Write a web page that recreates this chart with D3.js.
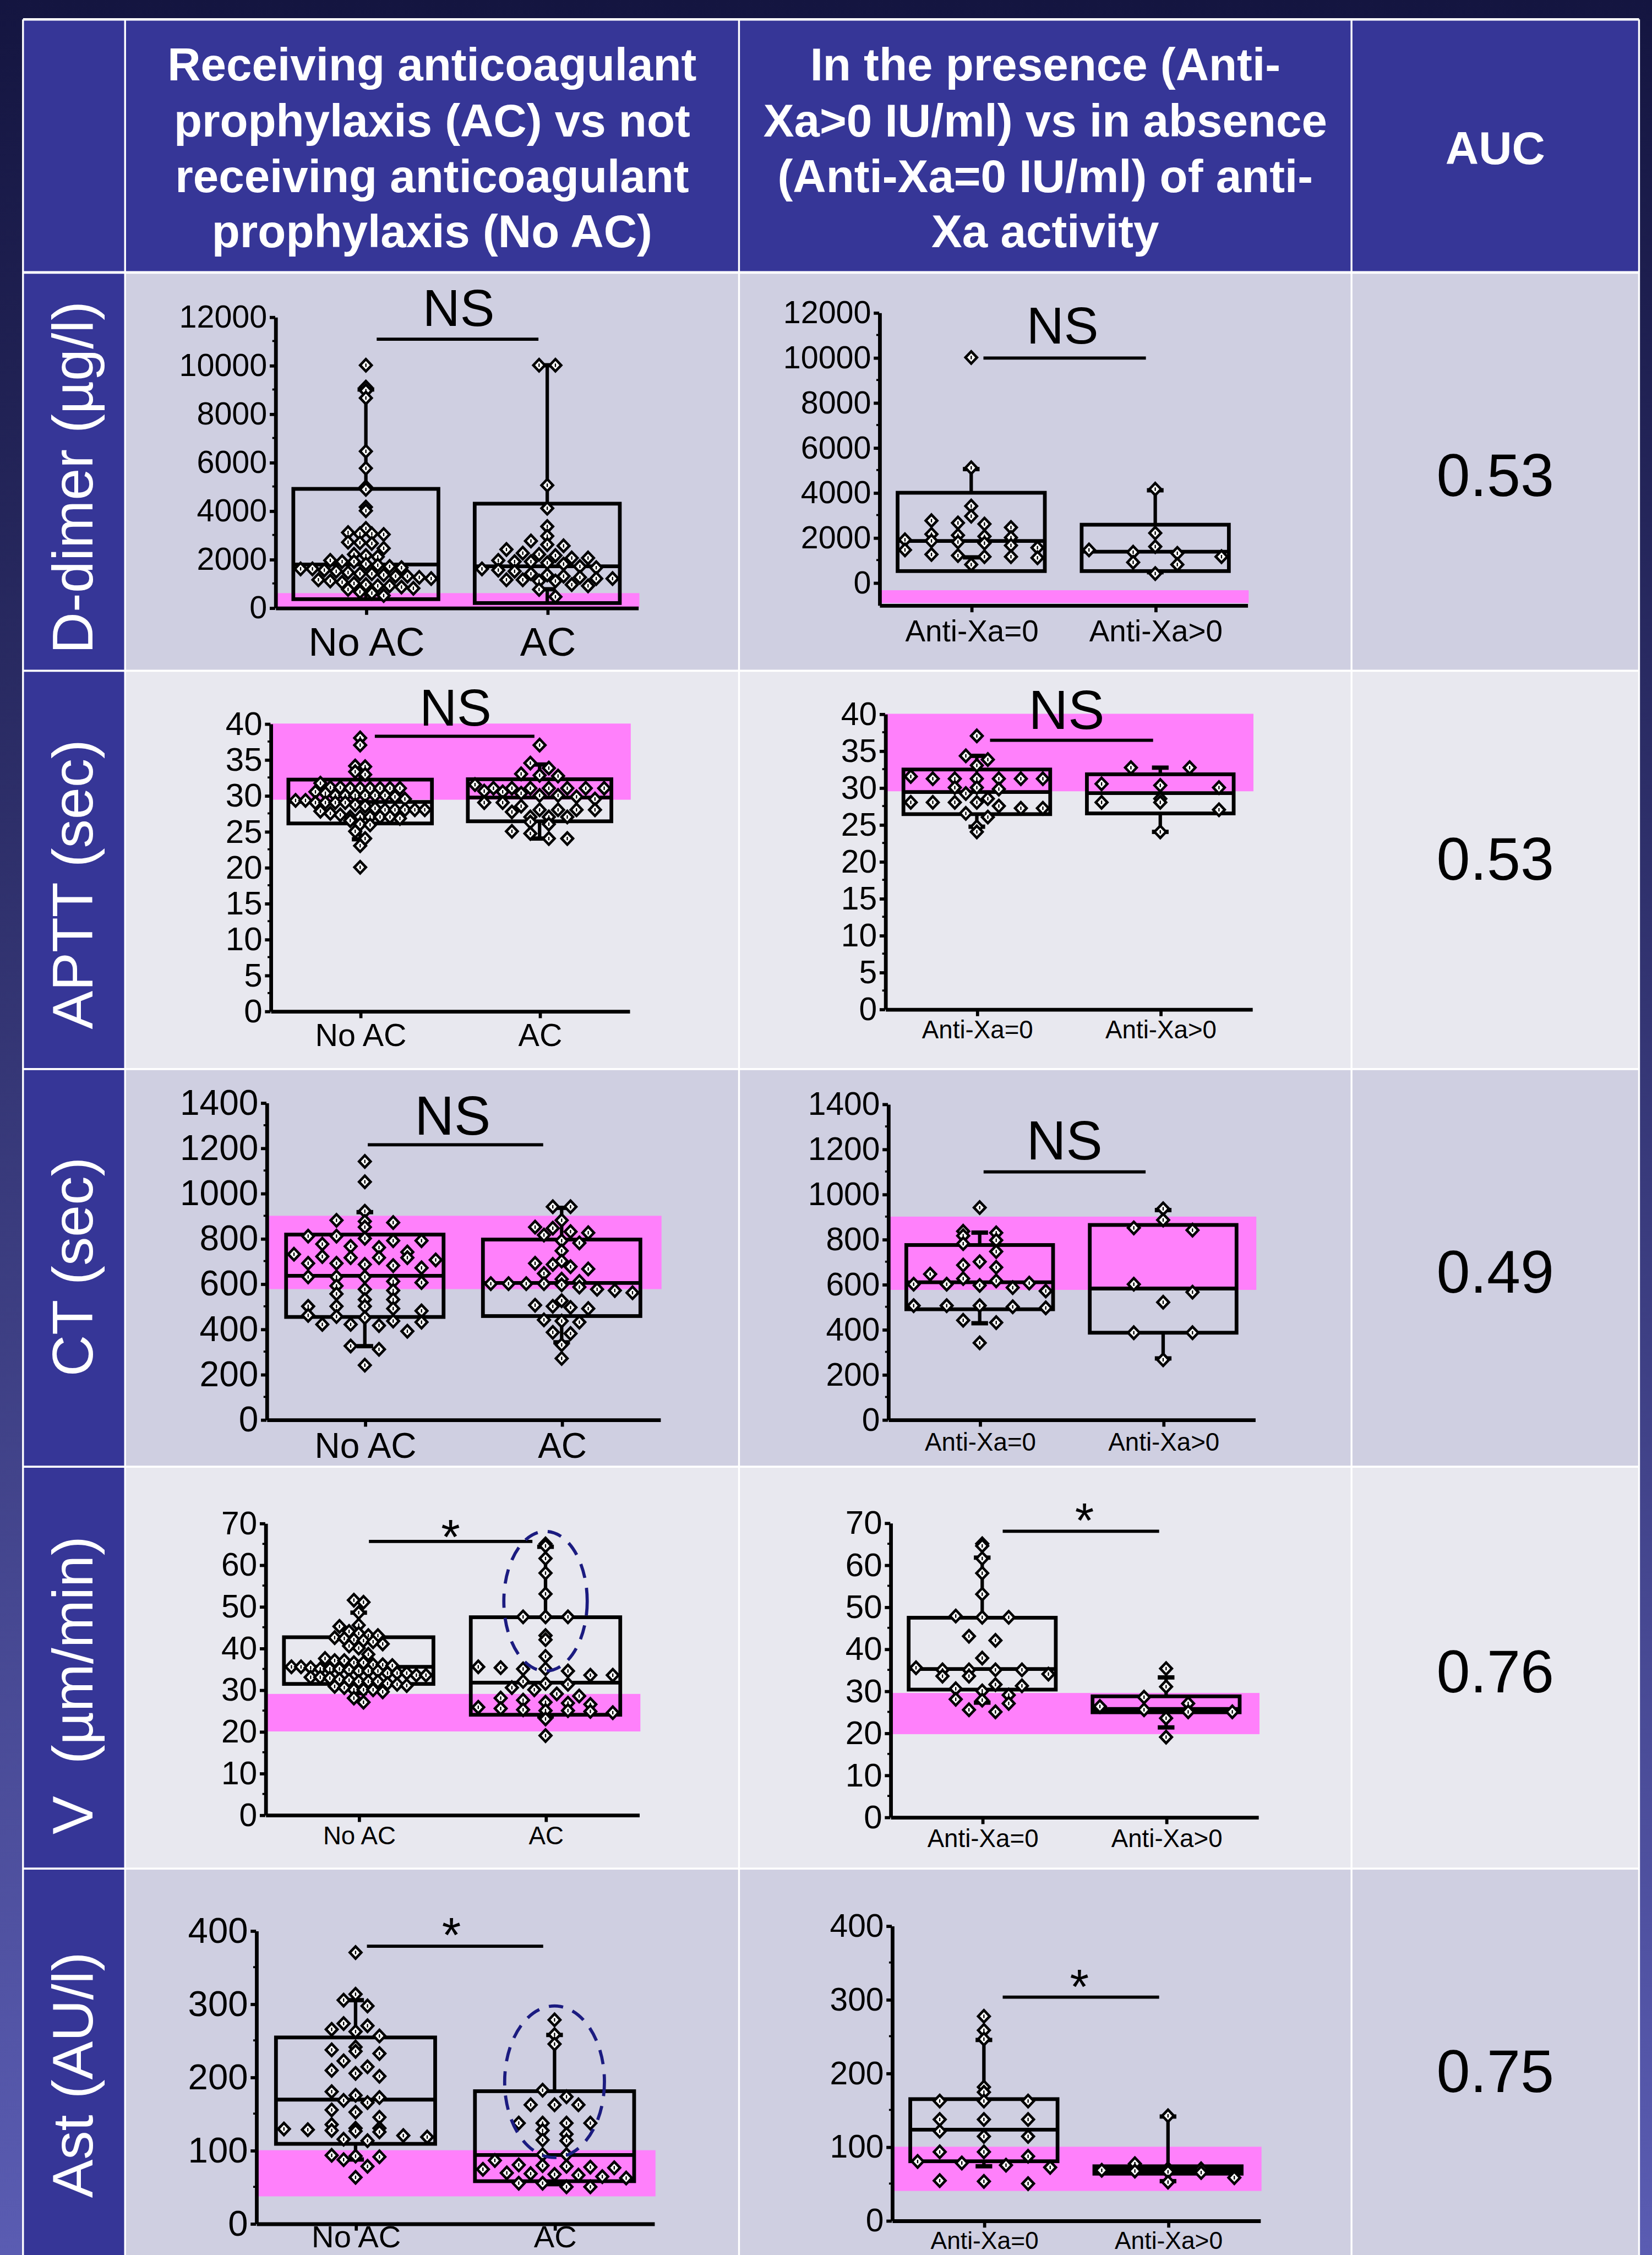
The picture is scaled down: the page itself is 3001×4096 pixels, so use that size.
<!DOCTYPE html>
<meta charset="utf-8">
<style>
  body { margin: 0; background: #15163f; }
  svg { display: block; }
  text { font-family: 'Liberation Sans', Arial, sans-serif; }
  .head { fill: white; font-weight: bold; font-size: 32px; text-anchor: middle; }
  .rowlab { fill: white; font-size: 40px; text-anchor: middle; white-space: pre; }
  .auc { fill: black; font-size: 42px; text-anchor: middle; }
  .pt { fill: white; stroke: black; stroke-width: 1.8; stroke-linejoin: miter; }
  .dot { stroke: black; stroke-width: 0.9; }
</style>
<body>
<script src="https://d3js.org/d3.v7.min.js"></script>
<script>

// ---- data ----
var rowLabels = ["D-dimer (µg/l)", "APTT (sec)", "CT (sec)", "V  (µm/min)", "Ast (AU/l)"];
var aucValues = ["0.53", "0.53", "0.49", "0.76", "0.75"];
var headLeft = ["Receiving anticoagulant", "prophylaxis (AC) vs not", "receiving anticoagulant", "prophylaxis (No AC)"];
var headMid = ["In the presence (Anti-", "Xa>0 IU/ml) vs in absence", "(Anti-Xa=0 IU/ml) of anti-", "Xa activity"];
var headRight = "AUC";
var acGroups = ["No AC", "AC"];
var xaGroups = ["Anti-Xa=0", "Anti-Xa>0"];
var sigAC = ["NS", "NS", "NS", "*", "*"];
var sigXa = ["NS", "NS", "NS", "*", "*"];
var yTicks = [
  [0, 2000, 4000, 6000, 8000, 10000, 12000],
  [0, 5, 10, 15, 20, 25, 30, 35, 40],
  [0, 200, 400, 600, 800, 1000, 1200, 1400],
  [0, 10, 20, 30, 40, 50, 60, 70],
  [0, 100, 200, 300, 400]
];

// reference ranges (pink bands)
var refAC = [[0, 600], [29.4, 40], [576, 900], [20, 29], [37, 100]];
var refXa = [[-910, -340], [29.5, 40], [575, 900], [19.7, 29.5], [40, 100]];

// box stats: [whisker low, q1, median, q3, whisker high]
var boxAC = [
  [[740, 350, 1780, 4900, 9000], [760, 190, 1705, 4290, 10000]],
  [[23.9, 26.1, 29.1, 32.2, 34.0], [24.0, 26.4, 29.7, 32.25, 34.3]],
  [[324, 453, 635, 817, 916], [341, 457, 603, 795, 935]],
  [[29.2, 31.4, 35.5, 42.6, 48.5], [23.6, 24.0, 31.7, 47.4, 64.3]],
  [[87.3, 108.7, 169.1, 254, 304.9], [53.6, 57.7, 93.4, 180.6, 257.4]]
];
var boxXa = [
  [[1120, 510, 1850, 3990, 5040], [460, 510, 1370, 2570, 4100]],
  [[24.7, 26.4, 29.4, 32.45, 34.3], [24.0, 26.5, 29.25, 31.8, 32.7]],
  [[427, 489, 609, 774, 829], [271, 385, 581, 863, 929]],
  [[27.2, 30.3, 35.2, 47.4, 61.7], [21.3, 24.9, 25.7, 28.7, 33.2]],
  [[73.5, 80.3, 123.1, 164.6, 244.9], [53.3, 63.4, 68.5, 73.5, 141]]
];

// individual patients
var ddimerNoAC = [10000, 9100, 8950, 8650, 6450, 5750, 4980, 4880, 4150, 4000, 3270, 3100, 3050, 3050, 3020, 2700, 2680, 2650, 2450, 2200, 2150, 2100, 1950, 1900, 1900, 1800, 1750, 1700, 1650, 1600, 1600, 1550, 1500, 1450, 1400, 1400, 1350, 1300, 1300, 1250, 1200, 1150, 1100, 1050, 1000, 950, 900, 900, 850, 800, 750, 650, 600, 500];
var ddimerAC = [10000, 10000, 5050, 4100, 3350, 2950, 2750, 2600, 2550, 2400, 2250, 2200, 2150, 2050, 2050, 1950, 1900, 1900, 1850, 1800, 1700, 1650, 1600, 1550, 1500, 1400, 1350, 1300, 1250, 1200, 1200, 1150, 1150, 1100, 1100, 950, 900, 750, 450];
var ddimerXa0 = [10000, 5100, 3400, 2950, 2750, 2650, 2600, 2450, 2150, 2100, 2050, 2000, 1900, 1850, 1800, 1750, 1650, 1550, 1450, 1250, 1200, 1150, 1150, 1100, 800];
var ddimerXa1 = [4150, 2200, 1600, 1450, 1350, 1300, 1150, 900, 800, 400];
var apttNoAC = [38, 37, 34.1, 34, 33.3, 32.9, 31.7, 31.1, 31.1, 31, 31, 31, 31, 31, 31, 30.5, 30.3, 30, 30, 30, 30, 30, 30, 29.8, 29.5, 29.3, 29.3, 29, 29, 29, 29, 28.7, 28.5, 28.2, 28, 28, 28, 28, 28, 27.8, 27.5, 27.3, 27, 27, 27, 27, 27, 26.8, 26.5, 26, 25.9, 25, 24, 23, 20];
var apttAC = [37, 34.5, 33.8, 33, 32.8, 32.7, 31.5, 31, 31, 31, 31, 31, 31, 31, 30.6, 30.5, 30.3, 30, 30, 29.8, 29.5, 29, 29, 28.5, 28, 28, 28, 28, 27.7, 27, 27, 27, 26.3, 26, 25, 24.7, 24, 24];
var apttXa0 = [37, 34.3, 33.8, 33, 31.5, 31.2, 31.2, 31.2, 31.2, 31.2, 31.2, 30, 30, 29.8, 29.2, 28.5, 28, 28, 28, 28, 27.5, 27.2, 27.2, 26.5, 26, 24.7, 24];
var apttXa1 = [32.7, 32.7, 30.5, 30.3, 30, 28.5, 28, 28, 27, 24];
var ctNoAC = [1140, 1050, 920, 880, 875, 870, 850, 810, 810, 800, 790, 790, 775, 765, 760, 740, 730, 720, 715, 715, 715, 705, 690, 690, 685, 680, 670, 630, 630, 630, 610, 605, 590, 575, 570, 555, 530, 530, 500, 500, 500, 490, 480, 460, 455, 450, 435, 430, 420, 420, 415, 390, 325, 310, 240];
var ctAC = [940, 940, 880, 850, 845, 830, 825, 815, 790, 780, 745, 700, 690, 685, 675, 665, 645, 620, 610, 600, 600, 600, 600, 595, 585, 575, 570, 560, 525, 505, 500, 495, 490, 440, 435, 430, 385, 380, 330, 270];
var ctXa0 = [940, 835, 828, 815, 795, 780, 745, 700, 685, 675, 645, 625, 615, 605, 600, 600, 595, 585, 570, 505, 505, 505, 500, 495, 440, 430, 340];
var ctXa1 = [935, 885, 850, 840, 600, 565, 520, 385, 385, 265];
var vNoAC = [51.5, 51, 48.5, 45.5, 45.2, 44, 43.5, 43, 43, 42.5, 42.3, 42, 41.8, 41.5, 41, 40.5, 40, 38.5, 37.5, 37, 37, 36.5, 36.5, 36, 36, 35.8, 35.5, 35.5, 35.3, 35, 35, 35, 34.8, 34.5, 34.5, 34.5, 34, 34, 34, 33.5, 33.5, 33, 33, 32.8, 32.5, 32.3, 32, 32, 32, 31.5, 31.3, 31, 30.8, 30.5, 30, 30, 30, 29.5, 28, 27];
var vAC = [65, 64.5, 61.5, 58, 53, 47.5, 47.5, 47.5, 43, 42, 38, 35.5, 35.3, 35, 35, 34.5, 33.5, 33.5, 32, 31.5, 31.3, 30.5, 30, 29, 28.5, 28, 27.5, 27, 26.8, 26.5, 25.8, 25.5, 25.2, 25, 25, 24.8, 24.5, 23, 19];
var vXa0 = [65, 64.5, 61.5, 58, 53, 47.8, 47.5, 47.5, 43, 42, 37.8, 35.5, 35, 35, 35, 35, 34, 33.5, 33.5, 31.5, 31.2, 30.5, 30, 29, 28, 27.8, 27, 25.5, 25];
var vXa1 = [35.3, 31, 28.5, 27, 26.3, 25.5, 25, 25, 23.5, 19];
var astNoAC = [370, 313, 305, 297, 273, 270, 265, 262, 256, 241, 237, 235, 232, 222, 214, 209, 205, 201, 180, 175, 172, 168, 165, 155, 152, 145, 135, 130, 130, 129, 128, 127, 126, 125, 120, 118, 115, 113, 93, 92, 91, 87, 78, 63];
var astAC = [278, 258, 245, 182, 173, 162, 162, 162, 137, 137, 137, 137, 127, 122, 114, 113, 94, 94, 86, 80, 79, 78, 77, 76, 74, 69, 68, 67, 66, 64, 62, 55, 55, 50, 50];
var astXa0 = [277, 258, 246, 181, 174, 162, 162, 162, 137, 137, 137, 121, 114, 114, 93, 93, 87, 80, 78, 75, 72, 54, 53, 50];
var astXa1 = [142, 77, 70, 70, 68, 67, 66, 65, 58, 52];

var ptsAC = [[ddimerNoAC, ddimerAC], [apttNoAC, apttAC], [ctNoAC, ctAC], [vNoAC, vAC], [astNoAC, astAC]];
var ptsXa = [[ddimerXa0, ddimerXa1], [apttXa0, apttXa1], [ctXa0, ctXa1], [vXa0, vXa1], [astXa0, astXa1]];

// dashed ellipses around the AC sub-group (row, value span)
var ellipses = [{row: 3, span: [34.5, 68], rx: 29}, {row: 4, span: [90, 297], rx: 34.7}];

// ---- layout (units of a 1149 wide page) ----
var W = 3001, H = 4096, S = W / 1149;
var colX = [16, 87, 514, 940, 1140];
var rowY = [13.5, 189.5, 466.5, 743.5, 1020, 1299.5, 1620];
var rowFill = ["#cfcfe1", "#e8e8ef", "#cfcfe1", "#e8e8ef", "#cfcfe1"];
var blue = "#363697";
var pink = "#ff80fb";
var rowLabelY = [332, 615, 881, 1172, 1443];
var aucY = [345, 612, 899, 1177, 1455];

var layAC = [
  {x: [191.4, 443.7], y: [422.6, 220.3], dom: [0, 12000], tf: 22, lf: 28, ly: 456, sy: 235.9, sx: [262, 374.5], tx: 319, ty: 226.6, fs: 36},
  {x: [188.1, 437.7], y: [703.1, 503.2], dom: [0, 40], tf: 23, lf: 22, ly: 727.6, sy: 512, sx: [260.7, 371.7], tx: 316.8, ty: 504.8, fs: 36},
  {x: [185.3, 459.1], y: [987.2, 766.8], dom: [0, 1400], tf: 24.5, lf: 24.5, ly: 1014, sy: 796.1, sx: [255.8, 377.8], tx: 314.8, ty: 789.1, fs: 38},
  {x: [184.5, 444.4], y: [1262.1, 1059.2], dom: [0, 70], tf: 22.5, lf: 17.5, ly: 1282.7, sy: 1072, sx: [256.6, 370.3], tx: 313.4, ty: 1080.4, fs: 34},
  {x: [178.1, 454.9], y: [1546.3, 1342.6], dom: [0, 400], tf: 25, lf: 21.5, ly: 1563, sy: 1353.5, sx: [255.2, 377.8], tx: 314, ty: 1357.2, fs: 34}
];
var layXa = [
  {x: [611.5, 867.5], y: [420.8, 217.3], dom: [-1000, 12000], tf: 22, lf: 21, ly: 446.1, sy: 249, sx: [684, 797], tx: 739, ty: 239, fs: 36},
  {x: [615.6, 870.8], y: [701.7, 496.4], dom: [0, 40], tf: 22.5, lf: 17.5, ly: 722.2, sy: 514.8, sx: [688.6, 802], tx: 741.8, ty: 507.1, fs: 38},
  {x: [617.6, 872.8], y: [987.2, 767.7], dom: [0, 1400], tf: 22.5, lf: 17.5, ly: 1009, sy: 815, sx: [684.1, 796.8], tx: 740.4, ty: 806.5, fs: 38},
  {x: [619.2, 875], y: [1263.6, 1059], dom: [0, 70], tf: 23, lf: 17.5, ly: 1284.4, sy: 1064.9, sx: [697.4, 806.2], tx: 754.3, ty: 1068.8, fs: 34},
  {x: [620.3, 876.4], y: [1544.2, 1339.2], dom: [0, 400], tf: 22.5, lf: 17, ly: 1564, sy: 1388.9, sx: [697.4, 806.2], tx: 750.7, ty: 1393.1, fs: 34}
];

// ---- page ----
var svg = d3.select("body").append("svg").attr("width", W).attr("height", H);
var grad = svg.append("defs").append("linearGradient").attr("id", "bg")
    .attr("x1", 0).attr("y1", 0).attr("x2", 0).attr("y2", 1);
grad.append("stop").attr("offset", "0%").attr("stop-color", "#141540");
grad.append("stop").attr("offset", "100%").attr("stop-color", "#5a5cb2");
svg.append("rect").attr("width", W).attr("height", H).attr("fill", "url(#bg)");

var root = svg.append("g").attr("transform", "scale(" + S + ")");

// table cells
root.append("rect").attr("x", colX[0]).attr("y", rowY[0])
    .attr("width", colX[4] - colX[0]).attr("height", rowY[1] - rowY[0]).attr("fill", blue);
rowFill.forEach(function(f, r) {
  root.append("rect").attr("x", colX[0]).attr("y", rowY[r + 1])
      .attr("width", colX[1] - colX[0]).attr("height", rowY[r + 2] - rowY[r + 1]).attr("fill", blue);
  root.append("rect").attr("x", colX[1]).attr("y", rowY[r + 1])
      .attr("width", colX[4] - colX[1]).attr("height", rowY[r + 2] - rowY[r + 1]).attr("fill", f);
});
// grid lines
colX.forEach(function(x) {
  root.append("line").attr("x1", x).attr("x2", x).attr("y1", rowY[0]).attr("y2", rowY[6])
      .attr("stroke", "white").attr("stroke-width", 1.3);
});
rowY.slice(0, 6).forEach(function(y, i) {
  root.append("line").attr("x1", colX[0]).attr("x2", colX[4]).attr("y1", y).attr("y2", y)
      .attr("stroke", "white").attr("stroke-width", i < 2 ? 1.8 : 1.4);
});

// header text
var headBase = [56, 95, 133.5, 172];
headLeft.forEach(function(t, i) {
  root.append("text").attr("class", "head").attr("x", (colX[1] + colX[2]) / 2).attr("y", headBase[i]).text(t);
});
headMid.forEach(function(t, i) {
  root.append("text").attr("class", "head").attr("x", (colX[2] + colX[3]) / 2).attr("y", headBase[i]).text(t);
});
root.append("text").attr("class", "head").attr("x", (colX[3] + colX[4]) / 2).attr("y", 114).text(headRight);

// row labels and AUC
rowLabels.forEach(function(t, r) {
  root.append("text").attr("class", "rowlab")
      .attr("transform", "translate(64.3," + rowLabelY[r] + ") rotate(-90)").text(t);
  root.append("text").attr("class", "auc")
      .attr("x", (colX[3] + colX[4]) / 2).attr("y", aucY[r]).text(aucValues[r]);
});

// ---- panels ----
var diamond = "M0,-4.2L4,0L0,4.2L-4,0Z";

function swarm(vals, y, cx, half) {
  var binPx = 7;
  var items = vals.map(function(v) { return {v: v}; });
  var bins = d3.groups(items, function(d) { return Math.round(y(d.v) / binPx); });
  var maxN = d3.max(bins, function(b) { return b[1].length; });
  var step = maxN > 1 ? Math.min(half * 1.8 / (maxN - 1), half * 0.8) : 0;
  var out = [];
  bins.forEach(function(b) {
    var n = b[1].length;
    b[1].forEach(function(d, j) {
      out.push({x: cx + (j - (n - 1) / 2) * step, y: y(d.v)});
    });
  });
  return out;
}

function drawPanel(lay, groups, boxes, pts, ref, ticks, sig) {
  var g = root.append("g");
  var x = d3.scalePoint().domain(groups).range(lay.x).padding(0.5);
  var y = d3.scaleLinear().domain([lay.dom[0], ticks[ticks.length - 1]]).range(lay.y);
  var half = (lay.x[1] - lay.x[0]) * 0.2;

  // reference range
  g.append("rect").attr("x", lay.x[0]).attr("width", lay.x[1] - lay.x[0] + 1)
      .attr("y", y(ref[1])).attr("height", y(ref[0]) - y(ref[1])).attr("fill", pink);

  // y axis
  var ya = g.append("g").attr("transform", "translate(" + lay.x[0] + ",0)")
      .call(d3.axisLeft(y).tickValues(ticks).tickSize(3.8).tickSizeOuter(0).tickPadding(1.8).tickFormat(d3.format("d")));
  ya.select(".domain").attr("stroke-width", 2.6);
  ya.selectAll(".tick line").attr("stroke-width", 2.2);
  ya.selectAll(".tick text").attr("font-size", lay.tf).attr("font-family", "'Liberation Sans', Arial, sans-serif").attr("fill", "black");
  // minor ticks
  var minor = d3.pairs(ticks).map(function(p) { return (p[0] + p[1]) / 2; });
  ya.selectAll(".minor").data(minor).enter().append("line").attr("class", "minor")
      .attr("x1", -2).attr("x2", 0).attr("y1", function(d) { return y(d); }).attr("y2", function(d) { return y(d); })
      .attr("stroke", "black").attr("stroke-width", 1.4);

  // x axis
  var y0 = y(lay.dom[0]);
  var xa = g.append("g").attr("transform", "translate(0," + y0 + ")")
      .call(d3.axisBottom(x).tickSize(5).tickSizeOuter(0));
  xa.select(".domain").attr("stroke-width", 2.6);
  xa.selectAll(".tick line").attr("stroke-width", 2.2);
  xa.selectAll(".tick text").attr("font-size", lay.lf).attr("font-family", "'Liberation Sans', Arial, sans-serif")
      .attr("fill", "black").attr("y", lay.ly - y0).attr("dy", 0);

  // boxes
  groups.forEach(function(grp, k) {
    var b = boxes[k], cx = x(grp);
    var bg = g.append("g");
    bg.append("line").attr("x1", cx).attr("x2", cx).attr("y1", y(b[3])).attr("y2", y(b[4]))
        .attr("stroke", "black").attr("stroke-width", 2.4);
    bg.append("line").attr("x1", cx).attr("x2", cx).attr("y1", y(b[1])).attr("y2", y(b[0]))
        .attr("stroke", "black").attr("stroke-width", 2.4);
    [b[0], b[4]].forEach(function(v) {
      bg.append("line").attr("x1", cx - 5.8).attr("x2", cx + 5.8).attr("y1", y(v)).attr("y2", y(v))
          .attr("stroke", "black").attr("stroke-width", 3);
    });
    bg.append("rect").attr("x", cx - half).attr("width", 2 * half)
        .attr("y", y(b[3])).attr("height", y(b[1]) - y(b[3]))
        .attr("fill", "none").attr("stroke", "black").attr("stroke-width", 2.6);
    bg.append("line").attr("x1", cx - half).attr("x2", cx + half).attr("y1", y(b[2])).attr("y2", y(b[2]))
        .attr("stroke", "black").attr("stroke-width", 2.6);

    var sw = swarm(pts[k], y, cx, half);
    var pg = g.append("g").selectAll("g").data(sw).enter().append("g")
        .attr("transform", function(d) { return "translate(" + d.x + "," + d.y + ")"; });
    pg.append("path").attr("class", "pt").attr("d", diamond);
    pg.append("line").attr("class", "dot").attr("x1", 0).attr("x2", 0).attr("y1", -1.2).attr("y2", 1.2);
  });

  // significance
  g.append("line").attr("x1", lay.sx[0]).attr("x2", lay.sx[1]).attr("y1", lay.sy).attr("y2", lay.sy)
      .attr("stroke", "black").attr("stroke-width", 2.2);
  g.append("text").attr("x", lay.tx).attr("y", lay.ty).attr("text-anchor", "middle")
      .attr("font-size", lay.fs).attr("fill", "black").text(sig);

  return {x: x, y: y};
}

var scalesAC = [];
for (var r = 0; r < 5; r++) {
  scalesAC.push(drawPanel(layAC[r], acGroups, boxAC[r], ptsAC[r], refAC[r], yTicks[r], sigAC[r]));
  drawPanel(layXa[r], xaGroups, boxXa[r], ptsXa[r], refXa[r], yTicks[r], sigXa[r]);
}

// dashed ellipses
ellipses.forEach(function(e) {
  var s = scalesAC[e.row];
  var top = s.y(e.span[1]), bot = s.y(e.span[0]);
  root.append("ellipse").attr("cx", s.x(acGroups[1])).attr("cy", (top + bot) / 2)
      .attr("rx", e.rx).attr("ry", (bot - top) / 2)
      .attr("fill", "none").attr("stroke", "#1b1b80").attr("stroke-width", 2.2)
      .attr("stroke-dasharray", "10,7");
});

</script>
</body>
